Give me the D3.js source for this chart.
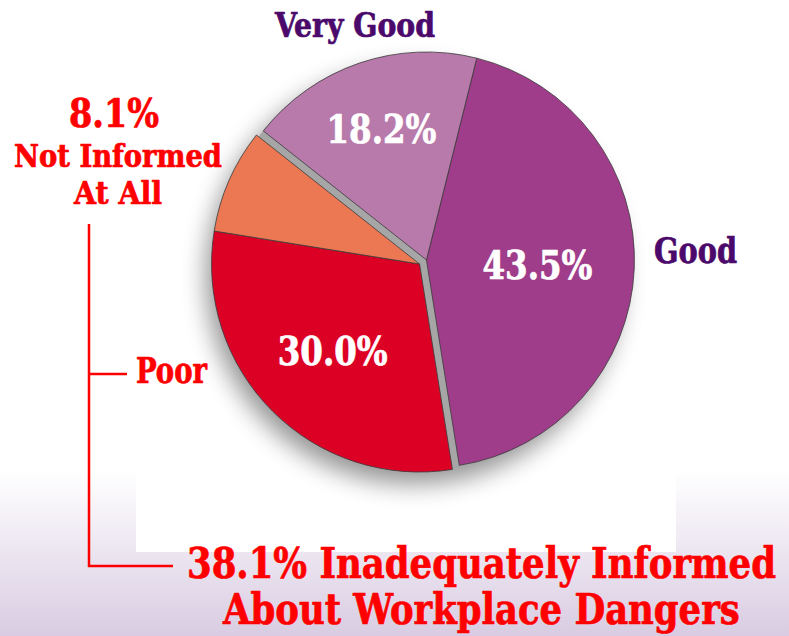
<!DOCTYPE html>
<html><head><meta charset="utf-8">
<script src="https://cdn.jsdelivr.net/npm/d3@7"></script>
<style>body{margin:0;background:#fff}svg{display:block}</style>
</head><body>
<script>
// ---- data ----
const categories = ["Good", "Poor", "Not Informed At All", "Very Good"];
const values = [43.5, 30.0, 8.1, 18.2];
const valueLabels = ["43.5%", "30.0%", "8.1%", "18.2%"];
const sliceColors = ["#a03d8b", "#dd0025", "#eb7853", "#b879ab"];
const sliceGroup = [0, 1, 1, 0];          // 1 = inadequately informed
const inadequateTotal = "38.1%";
const notInformedLines = ["Not Informed", "At All"];
const bottomLines = [inadequateTotal + " Inadequately Informed", "About Workplace Dangers"];

// ---- layout ----
const W = 789, H = 636;
const cx = 423, cy = 262, R = 208, explode = 4;
const labelRadius = [0.51, 0.59, 0, 0.67];
const labelShift = [5, 0, 0, 0];
const serif = "'DejaVu Serif Condensed','DejaVu Serif',serif";

const svg = d3.select("body").append("svg").attr("width", W).attr("height", H);
const defs = svg.append("defs");
const bg = defs.append("linearGradient").attr("id", "bg").attr("x1", 0).attr("y1", 0).attr("x2", 0).attr("y2", 1);
bg.append("stop").attr("offset", "0").attr("stop-color", "#ffffff");
bg.append("stop").attr("offset", "0.74").attr("stop-color", "#ffffff");
bg.append("stop").attr("offset", "1").attr("stop-color", "#d9cce2");
const f = defs.append("filter").attr("id", "blur").attr("x", "-50%").attr("y", "-50%").attr("width", "200%").attr("height", "200%");
f.append("feGaussianBlur").attr("stdDeviation", 12);

svg.append("rect").attr("width", W).attr("height", H).attr("fill", "url(#bg)");
svg.append("rect").attr("x", 136).attr("y", 0).attr("width", 540).attr("height", 552).attr("fill", "#fff");

// shadow
svg.append("circle").attr("cx", cx - 9).attr("cy", cy + 14).attr("r", R)
  .attr("fill", "#000").attr("opacity", 0.42).attr("filter", "url(#blur)");

const a0 = 14 * Math.PI / 180;
const pie = d3.pie().sort(null).value(d => d).startAngle(a0).endAngle(a0 + 2 * Math.PI);
const arcs = pie(values);
const arc = d3.arc().innerRadius(0).outerRadius(R);

const g1 = arcs.filter((d, i) => sliceGroup[i] === 1);
const mid1 = (g1[0].startAngle + g1[g1.length - 1].endAngle) / 2;
const dir = [Math.sin(mid1), -Math.cos(mid1)];
const offs = g => g === 1 ? [dir[0] * explode, dir[1] * explode] : [-dir[0] * explode, -dir[1] * explode];

svg.append("circle").attr("cx", cx).attr("cy", cy).attr("r", R - 1).attr("fill", "#a6a6a6");

const sl = svg.append("g").selectAll("g").data(arcs).join("g")
  .attr("transform", d => { const o = offs(sliceGroup[d.index]); return `translate(${cx + o[0]},${cy + o[1]})`; });
sl.append("path").attr("d", arc).attr("fill", d => sliceColors[d.index])
  .attr("stroke", "#3a3a3a").attr("stroke-width", 0.8).attr("stroke-linejoin", "round");

function styleText(t, size, color) {
  return t.attr("font-family", serif).attr("font-weight", "bold").attr("font-size", size)
    .attr("fill", color).attr("stroke", color).attr("stroke-width", 0.7).attr("stroke-linejoin", "round");
}
// text helper: horizontally scaled to a target width
function label(parent, txt, x, y, size, color, anchor, width) {
  const g = parent.append("g");
  const t = styleText(g.append("text").attr("text-anchor", anchor), size, color).text(txt);
  const sx = width / t.node().getComputedTextLength();
  g.attr("transform", `translate(${x},${y}) scale(${sx},1)`);
  return t;
}

// inside labels
arcs.forEach((d, i) => {
  if (!(labelRadius[i] > 0)) return;
  const m = (d.startAngle + d.endAngle) / 2, r = R * labelRadius[i];
  const o = offs(sliceGroup[i]);
  label(svg, valueLabels[i], cx + o[0] + Math.sin(m) * r + labelShift[i],
        cy + o[1] - Math.cos(m) * r + 14.5, 40, "#fff", "middle", 110);
});

const purple = "#4b0a6b", red = "#ff0000";
label(svg, categories[3], 355, 37, 33, purple, "middle", 160);
label(svg, categories[0], 654, 263, 35, purple, "start", 83);
label(svg, categories[1], 136, 383, 36, red, "start", 71);
label(svg, valueLabels[2], 114, 127, 40, red, "middle", 90);
label(svg, notInformedLines[0], 118, 167, 31.5, red, "middle", 208);
label(svg, notInformedLines[1], 118, 204, 31.5, red, "middle", 88);

label(svg, bottomLines[0], 187, 578, 43, red, "start", 589);
label(svg, bottomLines[1], 223, 624, 43, red, "start", 517);

// bracket
svg.append("path").attr("d", "M89,224V566H173M89,374H127")
  .attr("fill", "none").attr("stroke", red).attr("stroke-width", 2.5);
</script>
</body></html>
